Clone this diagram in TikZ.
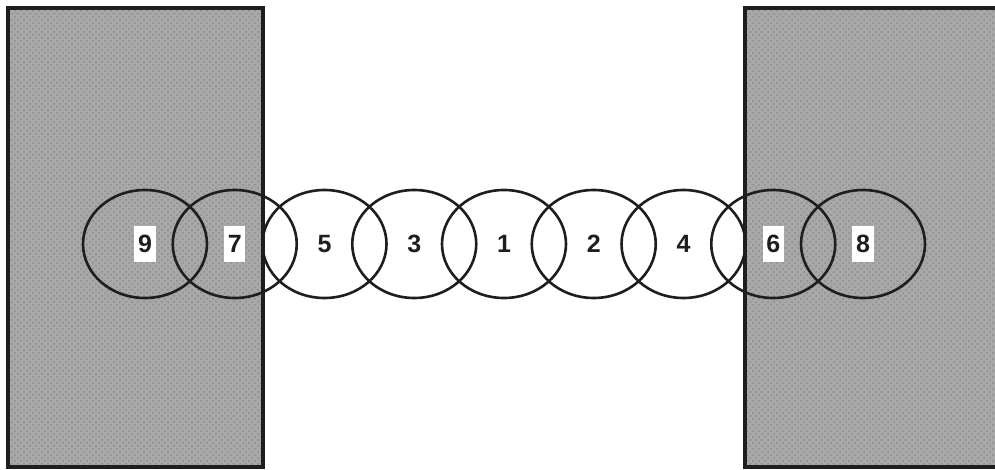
\documentclass[tikz,border=0pt]{standalone}
\usepackage{fontspec}
\setmainfont{Liberation Sans}
\usetikzlibrary{shapes.geometric,patterns}
\definecolor{wall}{HTML}{A8A8A8}
\definecolor{ink}{HTML}{1E1E1E}
\tikzset{
  hatch/.style={preaction={fill=wall}, pattern=crosshatch dots, pattern color=black!45},
  edge/.style={draw=ink, line width=1.6pt},
  ring/.style={ellipse, draw=ink, line width=1.3pt, minimum width=62pt, minimum height=54pt, inner sep=0pt},
  num/.style={fill=white, inner xsep=1.8pt, inner ysep=4.5pt, font=\fontsize{12.5}{14}\selectfont\bfseries, text=ink}
}
\begin{document}
\begin{tikzpicture}[x=0.5pt, y=-0.5pt]
 \useasboundingbox (0,0) rectangle (995,470);
 % walls
 \path[hatch] (8,8) rectangle (263,467);
 \draw[edge] (8,8) rectangle (263,467);
 \path[hatch] (745,8) rectangle (995,467);
 \draw[edge] (995,8) -- (745,8) -- (745,467) -- (995,467);

 % zones, left to right
 \foreach \n [count=\i from 0] in {9,7,5,3,1,2,4,6,8}
  \node[ring] (z\n) at (145+89.75*\i,244) {};
 \foreach \n in {9,7,5,3,1,2,4,6,8}
  \node[num] (t\n) at (z\n) {\n};
\end{tikzpicture}
\end{document}
